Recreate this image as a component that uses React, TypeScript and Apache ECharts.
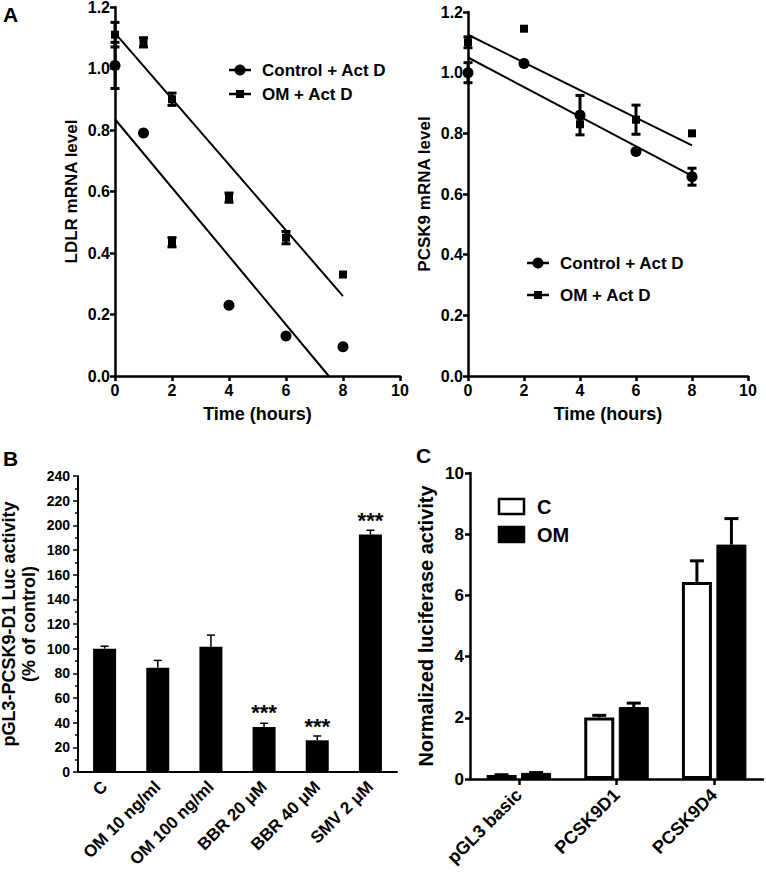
import React, { useEffect, useRef } from 'react';
import * as echarts from 'echarts';

// ---------- Panel A (left): LDLR mRNA ----------
const ctrlLDLRTime = [0, 1, 4, 6, 8];
const ctrlLDLR = [1.01, 0.79, 0.23, 0.13, 0.095];
const ctrlLDLRErr = [0.075, 0, 0, 0, 0];
const omLDLRTime = [0, 1, 2, 2, 4, 6, 8];
const omLDLR = [1.11, 1.085, 0.9, 0.435, 0.58, 0.45, 0.33];
const omLDLRErr = [0.04, 0.015, 0.02, 0.015, 0.015, 0.02, 0];
const fitCtrlLDLR = [[0, 0.835], [7.5, 0]];
const fitOmLDLR = [[0, 1.115], [8, 0.26]];

// ---------- Panel A (right): PCSK9 mRNA ----------
const pcsk9Time = [0, 2, 4, 6, 8];
const ctrlPCSK9 = [1.0, 1.03, 0.86, 0.74, 0.657];
const ctrlPCSK9Err = [0.033, 0, 0.065, 0, 0.028];
const omPCSK9 = [1.1, 1.145, 0.83, 0.845, 0.8];
const omPCSK9Err = [0.018, 0, 0, 0.048, 0];
const fitCtrlPCSK9 = [[0, 1.05], [8, 0.66]];
const fitOmPCSK9 = [[0, 1.125], [8, 0.76]];

const timeTicks = [0, 10, 2];
const mrnaTicks = [0, 1.2, 0.2];

// ---------- Panel B ----------
const treatments = ['C', 'OM 10 ng/ml', 'OM 100 ng/ml', 'BBR 20 μM', 'BBR 40 μM', 'SMV 2 μM'];
const activity = [100, 84.5, 101.5, 36.5, 25.7, 192.5];
const activityErr = [2, 6, 9.5, 3, 3.5, 3.5];
const significance = ['', '', '', '***', '***', '***'];
const activityTicks = [0, 240, 20];

// ---------- Panel C ----------
const constructs = ['pGL3 basic', 'PCSK9D1', 'PCSK9D4'];
const ctrlLuc = [0.13, 2.01, 6.44];
const ctrlLucErr = [0.01, 0.07, 0.69];
const omLuc = [0.2, 2.35, 7.66];
const omLucErr = [0.01, 0.13, 0.85];
const lucTicks = [0, 10, 2];

const FONT = '"Liberation Sans", Arial, Helvetica, sans-serif';
const BLACK = '#000';

const axisLine = (w = 2.5) => ({ show: true, onZero: false, lineStyle: { color: BLACK, width: w } });
const axisTick = (w = 2.5, len = 5) => ({ show: true, inside: false, length: len, lineStyle: { color: BLACK, width: w } });
const lbl = (size: number, margin = 6, extra: any = {}) => ({
  color: BLACK, fontFamily: FONT, fontWeight: 'bold', fontSize: size, margin, ...extra,
});
const nameStyle = (size: number, extra: any = {}) => ({
  color: BLACK, fontFamily: FONT, fontWeight: 'bold', fontSize: size, ...extra,
});

function errRender(offset: number, cap: number, width: number, both: boolean) {
  return (params: any, api: any) => {
    const e = api.value(2);
    if (!e) return { type: 'group', children: [] };
    const x = api.value(0);
    const y = api.value(1);
    const p1 = api.coord([x, y + e]);
    const p0 = api.coord([x, both ? y - e : y]);
    const cx = p1[0] + offset;
    const style = { stroke: BLACK, lineWidth: width };
    const children: any[] = [
      { type: 'line', shape: { x1: cx, y1: p1[1], x2: cx, y2: p0[1] }, style },
      { type: 'line', shape: { x1: cx - cap / 2, y1: p1[1], x2: cx + cap / 2, y2: p1[1] }, style },
    ];
    if (both) children.push({ type: 'line', shape: { x1: cx - cap / 2, y1: p0[1], x2: cx + cap / 2, y2: p0[1] }, style });
    return { type: 'group', children };
  };
}

const triples = (xs: number[], ys: number[], es: number[]) => xs.map((x, i) => [x, ys[i], es[i]]);
const pairs = (xs: number[], ys: number[]) => xs.map((x, i) => [x, ys[i]]);

function valueAxis(grid: number, ticks: number[], extra: any = {}) {
  return {
    type: 'value', gridIndex: grid, min: ticks[0], max: ticks[1], interval: ticks[2],
    splitLine: { show: false }, axisLine: axisLine(), axisTick: axisTick(), ...extra,
  };
}

function legendItem(x: number, y: number, symbol: 'circle' | 'square', text: string) {
  const els: any[] = [
    { type: 'line', shape: { x1: x, y1: y, x2: x + 22, y2: y }, style: { stroke: BLACK, lineWidth: 2.5 } },
  ];
  if (symbol === 'circle') els.push({ type: 'circle', shape: { cx: x + 11, cy: y, r: 5.5 }, style: { fill: BLACK } });
  else els.push({ type: 'rect', shape: { x: x + 7, y: y - 4, width: 8, height: 8 }, style: { fill: BLACK } });
  els.push({
    type: 'text', x: x + 33, y,
    style: { text, fill: BLACK, font: `bold 17px ${FONT}`, verticalAlign: 'middle', align: 'left' },
  });
  return els;
}

const dot = { color: BLACK, opacity: 1 };
const rotated = { rotate: 45, interval: 0, hideOverlap: false, overflow: 'none' };

function buildOption(): any {
  const ticks1 = (v: number) => v.toFixed(1);
  return {
    animation: false,
    backgroundColor: '#fff',
    grid: [
      { left: 115, top: 7, width: 285, height: 369, outerBoundsMode: 'none' },
      { left: 468, top: 12, width: 280, height: 364, outerBoundsMode: 'none' },
      { left: 78, top: 476, width: 319, height: 296, outerBoundsMode: 'none' },
      { left: 470, top: 473, width: 293, height: 306, outerBoundsMode: 'none' },
    ],
    xAxis: [
      valueAxis(0, timeTicks, {
        axisLabel: lbl(16, 6), name: 'Time (hours)', nameLocation: 'middle', nameGap: 29,
        nameTextStyle: nameStyle(18),
      }),
      valueAxis(1, timeTicks, {
        axisLabel: lbl(16, 6), name: 'Time (hours)', nameLocation: 'middle', nameGap: 29,
        nameTextStyle: nameStyle(18),
      }),
      {
        type: 'category', gridIndex: 2, data: treatments, boundaryGap: true,
        axisLine: axisLine(2), axisTick: { show: false },
        axisLabel: lbl(17, 12, rotated),
      },
      {
        type: 'category', gridIndex: 3, data: constructs, boundaryGap: true,
        axisLine: axisLine(2.5), axisTick: { ...axisTick(2.5, 6), alignWithLabel: true },
        axisLabel: lbl(18, 13, rotated),
      },
    ],
    yAxis: [
      valueAxis(0, mrnaTicks, {
        axisLabel: lbl(16, 5, { formatter: ticks1 }), name: 'LDLR mRNA level', nameLocation: 'middle',
        nameGap: 35, nameTextStyle: nameStyle(17),
      }),
      valueAxis(1, mrnaTicks, {
        axisLabel: lbl(16, 5, { formatter: ticks1 }), name: 'PCSK9 mRNA level', nameLocation: 'middle',
        nameGap: 35, nameTextStyle: nameStyle(17),
      }),
      valueAxis(2, activityTicks, {
        axisLine: axisLine(2), axisTick: axisTick(1.5, 5),
        minorTick: { show: true, splitNumber: 2, length: 3, lineStyle: { color: BLACK, width: 1.5 } },
        axisLabel: lbl(14, 8), name: 'pGL3-PCSK9-D1 Luc activity\n(% of control)', nameLocation: 'middle',
        nameGap: 39, nameTextStyle: nameStyle(18, { lineHeight: 20 }),
      }),
      valueAxis(3, lucTicks, {
        axisLabel: lbl(17, 6), name: 'Normalized luciferase activity', nameLocation: 'middle',
        nameGap: 34, nameTextStyle: nameStyle(20),
      }),
    ],
    series: [
      // Panel A left
      { type: 'line', xAxisIndex: 0, yAxisIndex: 0, data: fitCtrlLDLR, symbol: 'none', lineStyle: { color: BLACK, width: 2 }, z: 2 },
      { type: 'line', xAxisIndex: 0, yAxisIndex: 0, data: fitOmLDLR, symbol: 'none', lineStyle: { color: BLACK, width: 2 }, z: 2 },
      { type: 'custom', name: 'Control + Act D', xAxisIndex: 0, yAxisIndex: 0, data: triples(ctrlLDLRTime, ctrlLDLR, ctrlLDLRErr), renderItem: errRender(0, 9, 3, true), z: 3 },
      { type: 'custom', name: 'OM + Act D', xAxisIndex: 0, yAxisIndex: 0, data: triples(omLDLRTime, omLDLR, omLDLRErr), renderItem: errRender(0, 9, 3, true), z: 3 },
      { type: 'scatter', name: 'Control + Act D', xAxisIndex: 0, yAxisIndex: 0, data: pairs(ctrlLDLRTime, ctrlLDLR), symbol: 'circle', symbolSize: 11, itemStyle: dot, z: 4 },
      { type: 'scatter', name: 'OM + Act D', xAxisIndex: 0, yAxisIndex: 0, data: pairs(omLDLRTime, omLDLR), symbol: 'rect', symbolSize: 8, itemStyle: dot, z: 4 },
      // Panel A right
      { type: 'line', xAxisIndex: 1, yAxisIndex: 1, data: fitCtrlPCSK9, symbol: 'none', lineStyle: { color: BLACK, width: 2 }, z: 2 },
      { type: 'line', xAxisIndex: 1, yAxisIndex: 1, data: fitOmPCSK9, symbol: 'none', lineStyle: { color: BLACK, width: 2 }, z: 2 },
      { type: 'custom', xAxisIndex: 1, yAxisIndex: 1, data: triples(pcsk9Time, ctrlPCSK9, ctrlPCSK9Err), renderItem: errRender(0, 9, 3, true), z: 3 },
      { type: 'custom', xAxisIndex: 1, yAxisIndex: 1, data: triples(pcsk9Time, omPCSK9, omPCSK9Err), renderItem: errRender(0, 9, 3, true), z: 3 },
      { type: 'scatter', xAxisIndex: 1, yAxisIndex: 1, data: pairs(pcsk9Time, ctrlPCSK9), symbol: 'circle', symbolSize: 11, itemStyle: dot, z: 4 },
      { type: 'scatter', xAxisIndex: 1, yAxisIndex: 1, data: pairs(pcsk9Time, omPCSK9), symbol: 'rect', symbolSize: 8, itemStyle: dot, z: 4 },
      // Panel B
      {
        type: 'bar', xAxisIndex: 2, yAxisIndex: 2, data: activity, barWidth: 23, itemStyle: { color: BLACK },
        label: {
          show: true, position: 'top', distance: 3, formatter: (p: any) => significance[p.dataIndex],
          color: BLACK, fontFamily: FONT, fontSize: 22, fontWeight: 'bold',
        },
      },
      { type: 'custom', xAxisIndex: 2, yAxisIndex: 2, data: activity.map((v, i) => [i, v, activityErr[i]]), renderItem: errRender(0, 8, 1.5, false), z: 3 },
      // Panel C
      {
        type: 'bar', name: 'C', xAxisIndex: 3, yAxisIndex: 3, data: ctrlLuc, barWidth: 30, barGap: '15%',
        itemStyle: { color: '#fff', borderColor: BLACK, borderWidth: 3 },
      },
      {
        type: 'bar', name: 'OM', xAxisIndex: 3, yAxisIndex: 3, data: omLuc, barWidth: 30, barGap: '15%',
        itemStyle: { color: BLACK, borderColor: BLACK, borderWidth: 1 },
      },
      { type: 'custom', xAxisIndex: 3, yAxisIndex: 3, data: ctrlLuc.map((v, i) => [i, v, ctrlLucErr[i]]), renderItem: errRender(-17.25, 14, 3, false), z: 1 },
      { type: 'custom', xAxisIndex: 3, yAxisIndex: 3, data: omLuc.map((v, i) => [i, v, omLucErr[i]]), renderItem: errRender(17.25, 14, 3, false), z: 1 },
    ],
    graphic: [
      { type: 'text', x: 3, y: 4, style: { text: 'A', fill: BLACK, font: `bold 21px ${FONT}` } },
      { type: 'text', x: 3, y: 448, style: { text: 'B', fill: BLACK, font: `bold 21px ${FONT}` } },
      { type: 'text', x: 416, y: 445, style: { text: 'C', fill: BLACK, font: `bold 21px ${FONT}` } },
      ...legendItem(229, 70, 'circle', 'Control + Act D'),
      ...legendItem(229, 94, 'square', 'OM + Act D'),
      ...legendItem(527, 263, 'circle', 'Control + Act D'),
      ...legendItem(527, 295, 'square', 'OM + Act D'),
      { type: 'rect', shape: { x: 499, y: 499, width: 25, height: 15 }, style: { fill: '#fff', stroke: BLACK, lineWidth: 2.5 } },
      { type: 'rect', shape: { x: 497.75, y: 525.75, width: 27.5, height: 17.5 }, style: { fill: BLACK } },
      { type: 'text', x: 537, y: 507, style: { text: 'C', fill: BLACK, font: `bold 20px ${FONT}`, verticalAlign: 'middle' } },
      { type: 'text', x: 537, y: 535, style: { text: 'OM', fill: BLACK, font: `bold 20px ${FONT}`, verticalAlign: 'middle' } },
    ],
  };
}

export default function App() {
  const ref = useRef<HTMLDivElement>(null);
  useEffect(() => {
    if (!ref.current) return;
    const chart = echarts.init(ref.current, null, { renderer: 'svg' });
    chart.setOption(buildOption());
    return () => chart.dispose();
  }, []);
  return (
    <div
      ref={ref}
      style={{ position: 'fixed', left: 0, top: 0, width: 766, height: 873, background: '#fff' }}
    />
  );
}
